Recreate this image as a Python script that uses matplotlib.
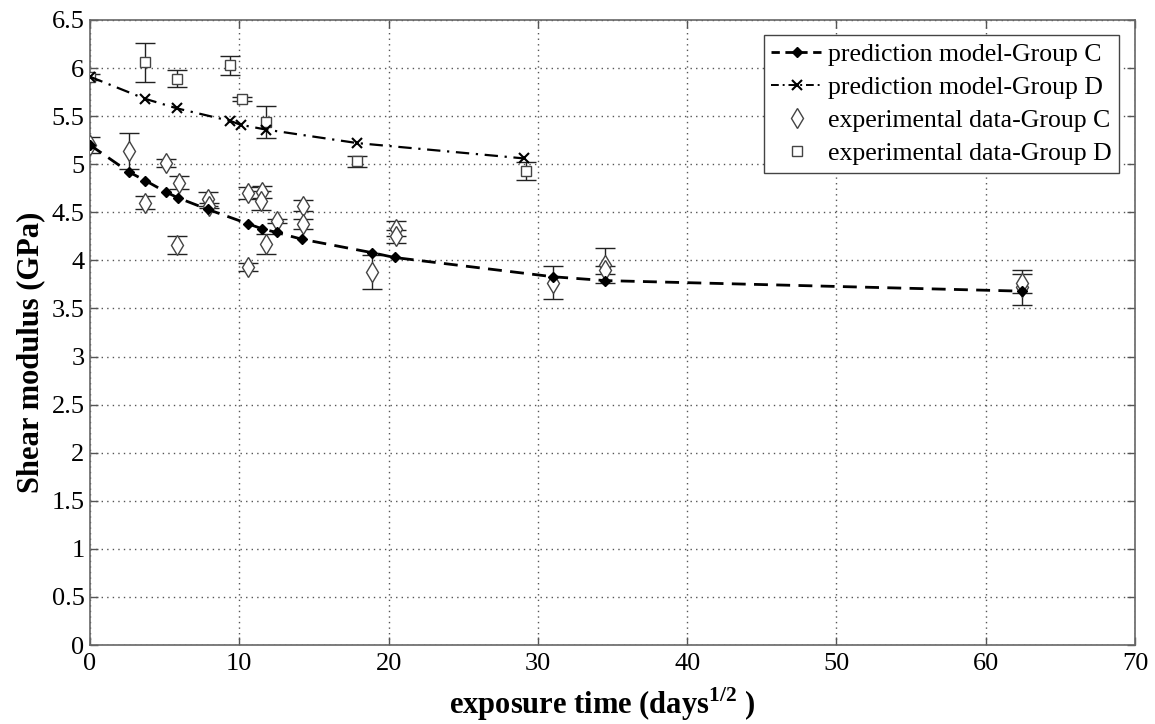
import matplotlib
matplotlib.use("Agg")
import matplotlib.pyplot as plt
from matplotlib.lines import Line2D

plt.rcParams['font.family'] = ['Liberation Serif', 'DejaVu Serif']
plt.rcParams['mathtext.fontset'] = 'custom'
plt.rcParams['mathtext.rm'] = 'Liberation Serif'
plt.rcParams['mathtext.bf'] = 'Liberation Serif:bold'

# prediction model curves
pred_c_x = [0, 2.6, 3.7, 5.1, 5.9, 7.9, 10.6, 11.5, 12.5, 14.2, 18.9, 20.4, 31.0, 34.5, 62.4]
pred_c_y = [5.20, 4.92, 4.83, 4.71, 4.65, 4.53, 4.38, 4.33, 4.29, 4.22, 4.08, 4.03, 3.83, 3.79, 3.68]

pred_d_x = [0, 3.7, 5.85, 9.4, 10.1, 11.8, 17.9, 29.1]
pred_d_y = [5.91, 5.68, 5.58, 5.45, 5.41, 5.36, 5.22, 5.06]

# experimental data with error bars
exp_c_x = [0, 2.6, 3.7, 5.1, 5.95, 5.85, 7.9, 8.0, 10.6, 10.6, 11.5, 11.45,
           11.8, 12.5, 14.25, 14.25, 18.9, 20.5, 20.5, 31.0, 34.5, 34.5, 62.4, 62.4]
exp_c_y = [5.20, 5.14, 4.60, 5.01, 4.81, 4.16, 4.64, 4.57, 4.70, 3.93, 4.71, 4.62,
           4.17, 4.41, 4.57, 4.38, 3.88, 4.33, 4.25, 3.77, 3.95, 3.90, 3.72, 3.76]
exp_c_err = [0.08, 0.19, 0.07, 0.04, 0.07, 0.09, 0.07, 0.03, 0.065, 0.04, 0.065, 0.10,
             0.10, 0.02, 0.06, 0.05, 0.18, 0.08, 0.07, 0.17, 0.18, 0.04, 0.18, 0.10]

exp_d_x = [0, 3.7, 5.85, 9.4, 10.2, 11.8, 17.9, 29.2]
exp_d_y = [5.91, 6.06, 5.89, 6.03, 5.68, 5.44, 5.03, 4.93]
exp_d_err = [0.03, 0.20, 0.09, 0.10, 0.02, 0.165, 0.06, 0.09]

fig = plt.figure(figsize=(11.55, 7.24), dpi=100)
ax = fig.add_axes([90 / 1155, 79 / 724, 1045 / 1155, 625 / 724])

ax.errorbar(exp_c_x, exp_c_y, yerr=exp_c_err, fmt='d', ms=10, mfc='white',
            mec='#444444', mew=1.0, ecolor='#222222', elinewidth=1.0,
            capsize=7, capthick=1.0, zorder=3)
ax.errorbar(exp_d_x, exp_d_y, yerr=exp_d_err, fmt='s', ms=7, mfc='white',
            mec='#444444', mew=1.0, ecolor='#222222', elinewidth=1.0,
            capsize=7, capthick=1.0, zorder=3)

ax.plot(pred_c_x, pred_c_y, color='black', ls=(0, (5, 3)), lw=2.0,
        marker='D', ms=5, mfc='black', mec='black', zorder=4)
ax.plot(pred_d_x, pred_d_y, color='black', ls=(0, (6, 3, 1, 3)), lw=1.6,
        marker='x', ms=7, mew=1.5, mec='black', zorder=4)

ax.set_xlim(0, 70)
ax.set_ylim(0, 6.5)
ax.set_xticks(range(0, 71, 10))
ax.set_yticks([i * 0.5 for i in range(14)])
ax.set_yticklabels(['0', '0.5', '1', '1.5', '2', '2.5', '3', '3.5', '4',
                    '4.5', '5', '5.5', '6', '6.5'])
ax.grid(True, ls=(0, (1, 3)), color='#555555', lw=1.0)
ax.tick_params(direction='in', length=6, width=1.0, top=True, right=True,
               labelsize=19, color='#555555')
ax.tick_params(axis='x', pad=6)
ax.tick_params(axis='y', pad=4)
for s in ax.spines.values():
    s.set_color('#666666')
    s.set_linewidth(1.2)

ax.set_xlabel(r'exposure time (days$^{\mathbf{1/2}}$ )', fontsize=22,
              fontweight='bold')
ax.xaxis.set_label_coords(0.49, -0.064)
ax.set_ylabel('Shear modulus (GPa)', fontsize=22, fontweight='bold')
ax.yaxis.set_label_coords(-0.043, 0.469)

handles = [
    Line2D([], [], color='black', ls=(0, (3, 2)), lw=2.0, marker='D', ms=5, mfc='black'),
    Line2D([], [], color='black', ls=(0, (4, 2, 1, 2)), lw=1.4, marker='x', ms=7, mew=1.5),
    Line2D([], [], ls='none', marker='d', ms=10, mfc='white', mec='#444444'),
    Line2D([], [], ls='none', marker='s', ms=7, mfc='white', mec='#444444'),
]
labels = ['prediction model-Group C', 'prediction model-Group D',
          'experimental data-Group C', 'experimental data-Group D']
leg = ax.legend(handles, labels, loc='upper right', bbox_to_anchor=(0.985, 0.976),
                fontsize=18.5, frameon=True, fancybox=False, framealpha=1,
                edgecolor='#444444', handlelength=2.0, handletextpad=0.2,
                borderpad=0.3, labelspacing=0.4, borderaxespad=0)
leg.get_frame().set_linewidth(1.0)

fig.savefig('out.png', dpi=100)
